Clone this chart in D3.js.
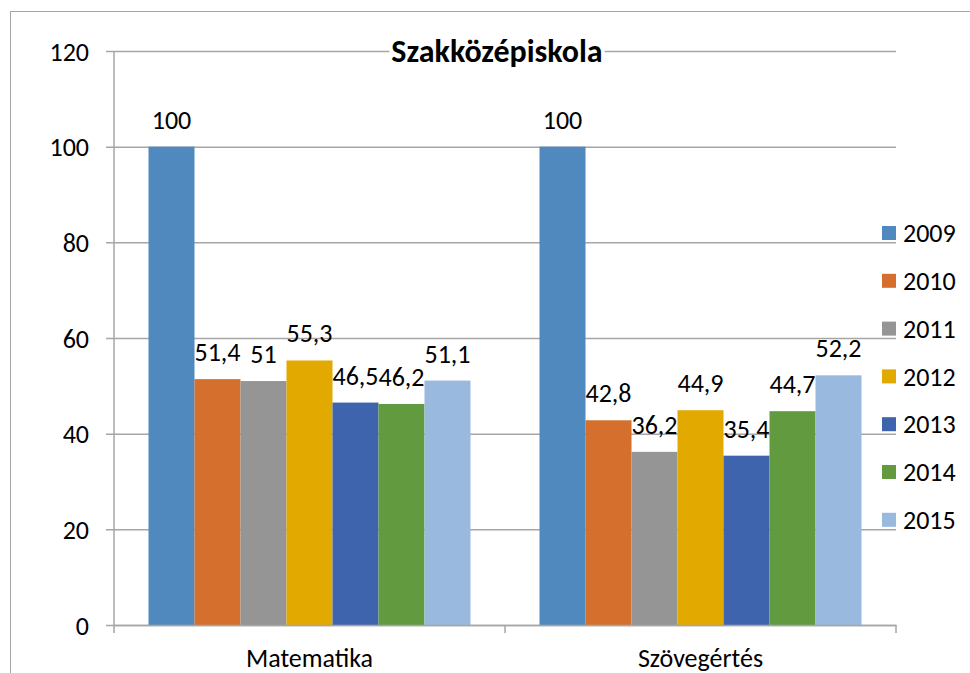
<!DOCTYPE html>
<html>
<head>
<meta charset="utf-8">
<script src="https://cdn.jsdelivr.net/npm/d3@7"></script>
<style>
  body { margin: 0; background: #fff; overflow: hidden; }
  text { font-family: Carlito, Calibri, "Open Sans", sans-serif; fill: #000; }
</style>
</head>
<body>
<div id="chart"></div>
<script>
const categories = ["Matematika", "Szövegértés"];
const years = ["2009", "2010", "2011", "2012", "2013", "2014", "2015"];
const matematika = [100, 51.4, 51, 55.3, 46.5, 46.2, 51.1];
const szovegertes = [100, 42.8, 36.2, 44.9, 35.4, 44.7, 52.2];
const yTicks = [0, 20, 40, 60, 80, 100, 120];
const colors = ["#4F89BD", "#D46F2D", "#959595", "#E2A900", "#3D64AD", "#629B3F", "#99B9DF"];
const title = "Szakközépiskola";

const seriesByCategory = [matematika, szovegertes];

let width = 970, height = 673;
let plot = {left: 114, right: 896, top: 51, bottom: 625};
let fontSize = "26px";

let svg = d3.select("#chart").append("svg")
  .attr("width", width)
  .attr("height", height);

// outer chart border (runs off the right/bottom edges)
svg.append("rect")
  .attr("x", 10.5).attr("y", 11.5)
  .attr("width", 1000).attr("height", 700)
  .attr("fill", "none")
  .attr("stroke", "#a6a6a6")
  .attr("stroke-width", 1);

let yScale = d3.scaleLinear().domain([0, 120]).range([plot.bottom, plot.top]);
let x0 = d3.scaleBand().domain(categories).range([plot.left, plot.right]).padding(0);
let x1 = d3.scaleBand().domain(years).range([0, x0.bandwidth()]).paddingInner(0).paddingOuter(0.75);

// gridlines + y axis
let yAxis = svg.append("g")
  .attr("transform", "translate(" + plot.left + ",0)")
  .call(d3.axisLeft(yScale).tickValues(yTicks).tickSize(-(plot.right - plot.left)).tickFormat(d3.format("d")));
yAxis.select(".domain").remove();
yAxis.selectAll(".tick line")
  .attr("x1", -8)
  .attr("stroke", "#a6a6a6")
  .attr("stroke-width", 1.5);
yAxis.selectAll(".tick text")
  .style("font-size", fontSize)
  .attr("x", -25)
  .attr("dy", "0.35em");

svg.append("line")
  .attr("x1", plot.left).attr("x2", plot.left)
  .attr("y1", plot.top).attr("y2", plot.bottom)
  .attr("stroke", "#a6a6a6").attr("stroke-width", 1.5);

// bars
let groups = svg.selectAll(".group")
  .data(categories)
  .enter().append("g")
  .attr("class", "group")
  .attr("transform", d => "translate(" + x0(d) + ",0)");

groups.selectAll("rect")
  .data((d, i) => seriesByCategory[i].map((v, j) => ({year: years[j], value: v, color: colors[j]})))
  .enter().append("rect")
  .attr("x", d => x1(d.year))
  .attr("y", d => yScale(d.value))
  .attr("width", x1.bandwidth())
  .attr("height", d => plot.bottom - yScale(d.value))
  .attr("fill", d => d.color);

groups.selectAll(".label")
  .data((d, i) => seriesByCategory[i].map((v, j) => ({year: years[j], value: v})))
  .enter().append("text")
  .attr("class", "label")
  .attr("x", d => x1(d.year) + x1.bandwidth() / 2)
  .attr("y", d => yScale(d.value) - 18)
  .attr("text-anchor", "middle")
  .style("font-size", fontSize)
  .text(d => String(d.value).replace(".", ","));

// x axis
let xAxis = svg.append("g")
  .attr("transform", "translate(0," + plot.bottom + ")")
  .call(d3.axisBottom(x0).tickSize(0).tickPadding(0));
xAxis.select(".domain").attr("stroke", "#a6a6a6").attr("stroke-width", 1.5);
xAxis.selectAll(".tick text")
  .style("font-size", fontSize)
  .attr("dy", null)
  .attr("y", 42);

let xTickPositions = [plot.left, x0(categories[1]), plot.right];
svg.selectAll(".xtick")
  .data(xTickPositions)
  .enter().append("line")
  .attr("x1", d => d).attr("x2", d => d)
  .attr("y1", plot.bottom).attr("y2", plot.bottom + 8)
  .attr("stroke", "#a6a6a6").attr("stroke-width", 1.5);

// title with white backing over the top gridline
let titleText = svg.append("text")
  .attr("x", 497)
  .attr("y", 62)
  .attr("text-anchor", "middle")
  .style("font-size", "32px")
  .style("font-weight", "bold")
  .text(title);
let tb = titleText.node().getBBox();
svg.insert("rect", () => titleText.node())
  .attr("x", tb.x - 2).attr("y", tb.y + 4)
  .attr("width", tb.width + 4).attr("height", tb.height - 8)
  .attr("fill", "#fff");

// legend
let legend = svg.selectAll(".legend")
  .data(years)
  .enter().append("g")
  .attr("class", "legend")
  .attr("transform", (d, i) => "translate(882," + (226 + i * 47.8) + ")");

legend.append("rect")
  .attr("width", 14).attr("height", 14)
  .attr("fill", (d, i) => colors[i]);

legend.append("text")
  .attr("x", 21)
  .attr("y", 7)
  .attr("dy", "0.35em")
  .style("font-size", fontSize)
  .text(d => d);
</script>
</body>
</html>
